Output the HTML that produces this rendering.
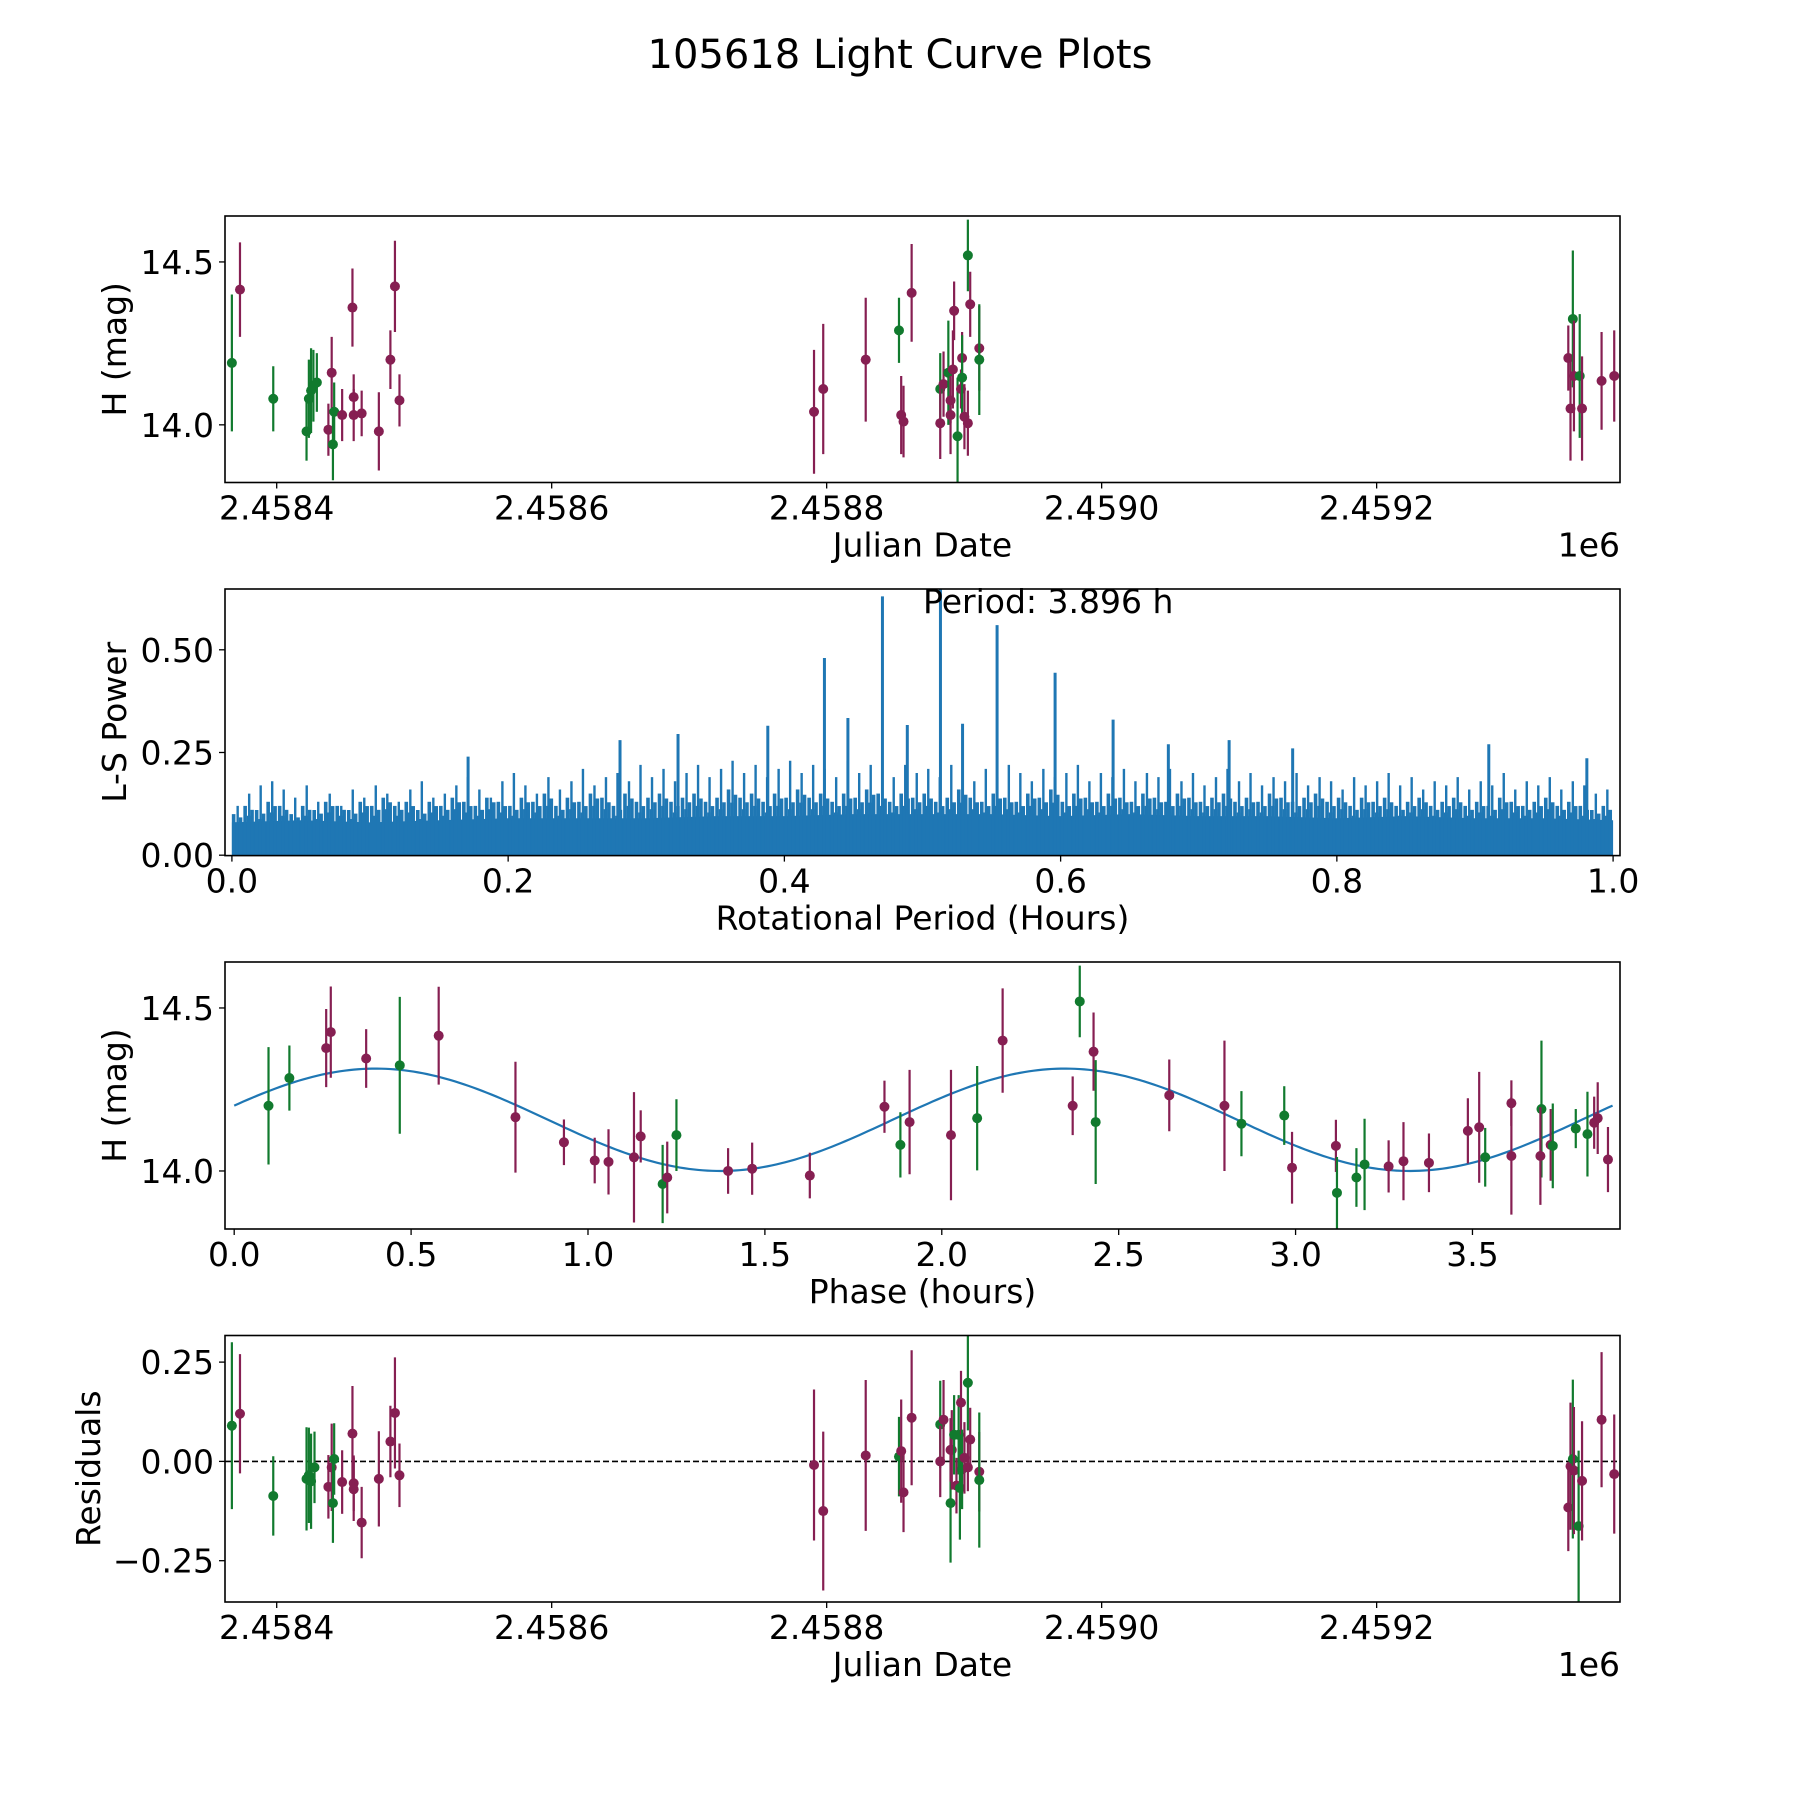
<!DOCTYPE html>
<html><head><meta charset="utf-8"><title>105618 Light Curve Plots</title>
<style>
html,body{margin:0;padding:0;background:#fff;}
svg{display:block;font-family:"DejaVu Sans","Liberation Sans",sans-serif;}
</style></head>
<body>
<svg id="fig" xmlns="http://www.w3.org/2000/svg" width="1800" height="1800" viewBox="0 0 1800 1800">
<rect x="0" y="0" width="1800" height="1800" fill="#fff"/>
<text x="900" y="68" font-size="40" text-anchor="middle">105618 Light Curve Plots</text>
</svg>
<script>
// ---------- DATA ----------
const lcDays = [-32.6,-26.7,-2.5,21.7,23.4,25,26.7,29.2,37.6,40,40.9,41.8,47.6,55.1,56,56,61.8,74.3,82.7,86,89.3,
  390.8,397.5,428.4,452.6,454.2,455.9,461.8,482.6,482.6,485,488.5,490.1,490.1,491.8,492.7,495.2,497.7,498.5,498.5,500.2,502.7,502.7,504.4,511,511,
  939.4,941,942.7,943.5,947.7,949.4,963.6,972.8];
const lcMag = [14.19,14.415,14.08,13.98,14.08,14.105,14.12,14.13,13.985,14.16,13.94,14.04,14.03,14.36,14.085,14.03,14.035,13.98,14.20,14.425,14.075,
  14.04,14.11,14.20,14.29,14.03,14.01,14.405,14.11,14.005,14.125,14.16,14.075,14.03,14.17,14.35,13.965,14.11,14.205,14.145,14.025,14.52,14.005,14.37,14.235,14.20,
  14.205,14.05,14.325,14.15,14.15,14.05,14.135,14.15];
const lcErr = [0.21,0.145,0.10,0.09,0.12,0.13,0.11,0.09,0.08,0.11,0.11,0.09,0.08,0.12,0.07,0.08,0.07,0.12,0.09,0.14,0.08,
  0.19,0.20,0.19,0.10,0.12,0.11,0.15,0.11,0.11,0.10,0.16,0.07,0.12,0.12,0.09,0.18,0.06,0.08,0.13,0.10,0.11,0.10,0.10,0.13,0.17,
  0.10,0.16,0.21,0.17,0.19,0.16,0.15,0.14];
const lcBand = [1,0,1,1,1,1,1,1,0,0,1,1,0,0,0,0,0,0,0,0,0,
  0,0,0,1,0,0,0,1,0,0,1,0,0,0,0,1,0,0,1,0,1,0,0,0,1,
  0,0,1,0,1,0,0,0];

const pdgSpikes = [0.12,0.15,0.17,0.18,0.16,0.14,0.17,0.13,0.15,0.12,0.16,0.14,0.17,0.15,0.13,0.16,0.18,0.14,0.15,0.17,
  0.19,0.16,0.14,0.18,0.20,0.17,0.15,0.19,0.16,0.18,0.21,0.17,0.19,0.20,0.18,0.22,0.19,0.21,0.18,0.20,
  0.22,0.19,0.21,0.23,0.20,0.22,0.19,0.21,0.23,0.20,0.22,0.21,0.19,0.23,0.20,0.22,0.21,0.19,0.22,0.20,
  0.21,0.19,0.22,0.20,0.18,0.21,0.19,0.22,0.20,0.18,0.21,0.19,0.20,0.22,0.18,0.20,0.19,0.21,0.18,0.20,
  0.19,0.21,0.18,0.20,0.17,0.19,0.21,0.18,0.20,0.17,0.19,0.18,0.20,0.17,0.19,0.18,0.16,0.19,0.17,0.18,
  0.20,0.17,0.19,0.16,0.18,0.17,0.19,0.16,0.18,0.17,0.20,0.16,0.18,0.17,0.19,0.16,0.18,0.17,0.15,0.16];
const pdgMid = [0.10,0.12,0.11,0.13,0.12,0.10,0.12,0.11,0.13,0.12,0.11,0.13,0.12,0.14,0.12,0.13,0.11,0.13,0.12,0.14,
  0.13,0.12,0.14,0.13,0.12,0.14,0.13,0.15,0.12,0.14,0.13,0.15,0.14,0.12,0.15,0.13,0.14,0.15,0.13,0.14,
  0.15,0.13,0.14,0.16,0.14,0.15,0.13,0.15,0.14,0.16,0.14,0.15,0.13,0.15,0.14,0.16,0.15,0.13,0.15,0.14,
  0.15,0.13,0.14,0.16,0.14,0.13,0.15,0.14,0.13,0.15,0.14,0.16,0.13,0.15,0.14,0.13,0.15,0.14,0.13,0.15,
  0.14,0.13,0.15,0.14,0.13,0.14,0.15,0.13,0.14,0.13,0.15,0.14,0.13,0.14,0.15,0.13,0.14,0.12,0.14,0.13,
  0.14,0.12,0.13,0.14,0.12,0.13,0.14,0.12,0.13,0.12,0.14,0.13,0.12,0.13,0.14,0.12,0.13,0.12,0.11,0.12];
const pdgBase = [0.08,0.085,0.08,0.085,0.09,0.09,0.09,0.095,0.095,0.10,0.10,0.10,0.095,0.10,0.095,0.095,0.09,0.095,0.09,0.09,0.085];
const peakPeriods = [0.171,0.281,0.323,0.388,0.429,0.446,0.471,0.489,0.513,0.529,0.554,0.596,0.638,0.678,0.722,0.768,0.91,0.981];
const peakPowers  = [0.24,0.28,0.295,0.315,0.48,0.334,0.63,0.317,0.66,0.32,0.56,0.444,0.33,0.27,0.28,0.26,0.27,0.236];

const phHours = [0.097,0.156,0.26,0.273,0.373,0.468,0.578,0.795,0.932,1.019,1.058,1.13,1.149,1.211,1.224,1.25,1.396,1.464,1.627,1.838,
  1.883,1.909,2.026,2.10,2.172,2.37,2.39,2.429,2.435,2.643,2.799,2.847,2.968,2.99,3.114,3.117,3.172,3.195,3.263,3.305,
  3.377,3.487,3.519,3.536,3.61,3.61,3.695,3.692,3.721,3.727,3.792,3.825,3.844,3.854,3.883];
const phMag = [14.20,14.285,14.377,14.426,14.345,14.324,14.415,14.165,14.088,14.032,14.028,14.042,14.106,13.96,13.98,14.11,14.0,14.007,13.986,14.197,
  14.08,14.15,14.11,14.162,14.40,14.20,14.52,14.366,14.15,14.232,14.20,14.145,14.17,14.01,14.077,13.933,13.98,14.02,14.014,14.03,
  14.025,14.123,14.134,14.042,14.208,14.046,14.19,14.046,14.08,14.077,14.13,14.113,14.148,14.162,14.035];
const phErr = [0.18,0.10,0.12,0.14,0.09,0.21,0.15,0.17,0.07,0.07,0.10,0.20,0.08,0.12,0.11,0.11,0.07,0.08,0.07,0.08,
  0.10,0.16,0.20,0.16,0.16,0.09,0.11,0.12,0.19,0.11,0.20,0.10,0.09,0.11,0.08,0.11,0.09,0.14,0.08,0.12,
  0.09,0.10,0.17,0.09,0.07,0.18,0.21,0.15,0.11,0.13,0.06,0.13,0.08,0.11,0.10];
const phBand = [1,1,0,0,0,1,0,0,0,0,0,0,0,1,0,1,0,0,0,0,
  1,0,0,1,0,0,1,0,1,0,0,1,1,0,0,1,1,1,0,0,
  0,0,0,1,0,0,1,0,0,1,1,1,0,0,0];
const modelMean = [14.157];
const modelAmp = [0.157];
const modelPeak = [0.40];
const modelHalfPeriod = [1.948];
const rotPeriod = [3.896];

const resDays = [-32.6,-26.7,-2.5,21.7,23.4,25,27.5,37.6,40,40.9,41.8,47.6,55.1,56,56,61.8,74.3,82.7,86,89.3,
  390.8,397.5,428.4,452.6,454.2,455.9,461.8,482.6,482.6,485,490.1,490.1,491,492.7,494.4,496,496.9,497.7,498.5,500.2,502.7,502.7,504.4,511,511,
  939.4,941,942.7,943.5,946.9,949.4,963.6,972.8];
const resVals = [0.09,0.12,-0.087,-0.044,-0.035,-0.05,-0.015,-0.064,-0.015,-0.105,0.006,-0.052,0.07,-0.055,-0.07,-0.154,-0.044,0.05,0.122,-0.035,
  -0.009,-0.125,0.015,0.012,0.026,-0.078,0.11,0.093,0,0.105,-0.105,0.029,0.029,0.067,-0.061,0.067,-0.067,0.148,-0.02,0.009,0.198,-0.015,0.055,-0.026,-0.047,
  -0.116,-0.012,0.006,-0.023,-0.163,-0.049,0.105,-0.032];
const resErr = [0.21,0.15,0.10,0.13,0.12,0.12,0.09,0.08,0.11,0.10,0.09,0.08,0.12,0.07,0.08,0.09,0.12,0.09,0.14,0.08,
  0.19,0.20,0.19,0.10,0.13,0.10,0.17,0.11,0.09,0.10,0.15,0.08,0.10,0.10,0.07,0.10,0.13,0.08,0.10,0.09,0.12,0.06,0.08,0.10,0.17,
  0.11,0.16,0.20,0.16,0.19,0.15,0.17,0.15];
const resBand = [1,0,1,1,1,1,1,0,0,1,1,0,0,0,0,0,0,0,0,0,
  0,0,0,1,0,0,0,1,0,0,1,0,0,1,0,1,1,0,1,0,1,0,0,0,1,
  0,0,1,0,1,0,0,0];

const jdTicks = [2458400,2458600,2458800,2459000,2459200];
const jdTickLabels = ["2.4584","2.4586","2.4588","2.4590","2.4592"];
const magTicks = [14.0,14.5];
const magTickLabels = ["14.0","14.5"];
const pwrTicks = [0,0.25,0.5];
const pwrTickLabels = ["0.00","0.25","0.50"];
const perTicks = [0,0.2,0.4,0.6,0.8,1.0];
const perTickLabels = ["0.0","0.2","0.4","0.6","0.8","1.0"];
const phTicks = [0,0.5,1,1.5,2,2.5,3,3.5];
const phTickLabels = ["0.0","0.5","1.0","1.5","2.0","2.5","3.0","3.5"];
const resTicks = [0.25,0,-0.25];
const resTickLabels = ["0.25","0.00","\u22120.25"];

// ---------- DRAW ----------
const NS = "http://www.w3.org/2000/svg";
const svg = document.getElementById('fig');
const L = 225, R = 1620;
const MAG = '#861f52', GRN = '#117a2e', BLUE = '#1f77b4';
function el(tag, attrs, parent){
  const e = document.createElementNS(NS, tag);
  for (const k in attrs) e.setAttribute(k, attrs[k]);
  (parent||svg).appendChild(e);
  return e;
}
function lin(d0,d1,r0,r1){ return v => r0 + (v-d0)/(d1-d0)*(r1-r0); }

function makeAxes(name, top, bot){
  const g = el('g', {});
  
  
  const clipId = name + '-clip';
  const cp = el('clipPath', {id: clipId}, g);
  el('rect', {x: L, y: top, width: R-L, height: bot-top}, cp);
  const plot = el('g', {'clip-path': 'url(#' + clipId + ')'}, g);
  
  
  return {g, plot, top, bot};
}
function frame(ax){
  const f = el('rect', {x: L, y: ax.top, width: R-L, height: ax.bot-ax.top, fill: 'none', stroke: '#000', 'stroke-width': 1.6}, ax.g);
  
  
}
function xTicks(ax, ticks, labels, sx, label, offsetText){
  ticks.forEach((t,i) => {
    const x = sx(t);
    el('line', {x1:x, x2:x, y1:ax.bot, y2:ax.bot+6, stroke:'#000','stroke-width':1.3}, ax.g);
    const tx = el('text', {x:x, y:ax.bot+37, 'font-size':33, 'text-anchor':'middle'}, ax.g);
    tx.textContent = labels[i];
    
    
  });
  const xl = el('text', {x:(L+R)/2, y:ax.bot+74, 'font-size':33, 'text-anchor':'middle'}, ax.g);
  xl.textContent = label;
  
  
  if (offsetText){
    const ot = el('text', {x:R, y:ax.bot+74, 'font-size':33, 'text-anchor':'end'}, ax.g);
    ot.textContent = offsetText;
    
    
  }
}
function yTicks(ax, ticks, labels, sy, label, labelX){
  ticks.forEach((t,i) => {
    const y = sy(t);
    el('line', {x1:L-6, x2:L, y1:y, y2:y, stroke:'#000','stroke-width':1.3}, ax.g);
    const ty = el('text', {x:L-11, y:y+12, 'font-size':33, 'text-anchor':'end'}, ax.g);
    ty.textContent = labels[i];
    
    
  });
  const cy = (ax.top+ax.bot)/2;
  const yl = el('text', {x:labelX, y:cy, 'font-size':33, 'text-anchor':'middle', transform:'rotate(-90 '+labelX+' '+cy+')'}, ax.g);
  yl.textContent = label;
  
  
}
function errPoint(parent, x, y, yLo, yHi, color, name){
  const g = el('g', {}, parent);
  
  
  el('line', {x1:x, x2:x, y1:yLo, y2:yHi, stroke:color, 'stroke-width':2.2}, g);
  el('circle', {cx:x, cy:y, r:5, fill:color}, g);
}

// --- Axes 1 ---
const jdMin = 2458362.4, jdMax = 2459377.0;
const ax1 = makeAxes('light-curve-axes', 216, 482.5);
const sx1 = lin(jdMin, jdMax, L, R);
const sy1 = lin(13.823, 14.641, 482.5, 216);
lcDays.forEach((d,i) => {
  const jd = 2458400 + d;
  errPoint(ax1.plot, sx1(jd), sy1(lcMag[i]), sy1(lcMag[i]-lcErr[i]), sy1(lcMag[i]+lcErr[i]), lcBand[i] ? GRN : MAG, 'light-curve-point');
});
frame(ax1);
xTicks(ax1, jdTicks, jdTickLabels, sx1, 'Julian Date', '1e6');
yTicks(ax1, magTicks, magTickLabels, sy1, 'H (mag)', 126);

// --- Axes 2: periodogram ---
const ax2 = makeAxes('periodogram-axes', 589, 855.6);
const sx2 = lin(-0.005, 1.005, L, R);
const sy2 = lin(-0.001, 0.648, 855.6, 589);
let pts = [];
pdgBase.forEach((v,i) => { pts.push(sx2(i/(pdgBase.length-1)) + ',' + sy2(v)); });
const basePoly = el('polygon', {points: sx2(0)+','+sy2(0)+' '+pts.join(' ')+' '+sx2(1)+','+sy2(0), fill: BLUE}, ax2.plot);


const n1 = pdgSpikes.length;
pdgSpikes.forEach((v,i) => {
  const x = sx2((i+0.5)/n1);
  const s = el('line', {x1:x, x2:x, y1:sy2(0), y2:sy2(v), stroke:BLUE, 'stroke-width':2.4}, ax2.plot);
  
  
});
const n2 = pdgMid.length;
const subFrac = [1.0, 0.8, 0.92];
pdgMid.forEach((v,i) => {
  for (let k=0;k<3;k++){
    const x = sx2((i + 0.15 + k*0.3)/n2);
    const h = v * subFrac[k];
    const s = el('rect', {x:x-1.8, y:sy2(h), width:3.6, height:sy2(0)-sy2(h), fill:BLUE}, ax2.plot);
    
    
  }
});
peakPeriods.forEach((p,i) => {
  const x = sx2(p);
  const s = el('line', {x1:x, x2:x, y1:sy2(0), y2:sy2(peakPowers[i]), stroke:BLUE, 'stroke-width':3}, ax2.plot);
  
  
});
frame(ax2);
const ptxt = el('text', {x:923, y:613, 'font-size':33}, ax2.g);
ptxt.textContent = 'Period: ' + rotPeriod[0].toFixed(3) + ' h';


xTicks(ax2, perTicks, perTickLabels, sx2, 'Rotational Period (Hours)', null);
yTicks(ax2, pwrTicks, pwrTickLabels, sy2, 'L-S Power', 126);

// --- Axes 3 ---
const ax3 = makeAxes('phase-folded-axes', 962, 1229);
const sx3 = lin(-0.026, 3.917, L, R);
const sy3 = lin(13.822, 14.641, 1229, 962);
let cpts = [];
for (let k=0;k<=300;k++){
  const ph = rotPeriod[0]*k/300;
  const m = modelMean[0] + modelAmp[0]*Math.cos(2*Math.PI*(ph-modelPeak[0])/modelHalfPeriod[0]);
  cpts.push(sx3(ph).toFixed(2)+','+sy3(m).toFixed(2));
}
const curve = el('polyline', {points:cpts.join(' '), fill:'none', stroke:BLUE, 'stroke-width':2.2}, ax3.plot);


phHours.forEach((p,i) => {
  errPoint(ax3.plot, sx3(p), sy3(phMag[i]), sy3(phMag[i]-phErr[i]), sy3(phMag[i]+phErr[i]), phBand[i] ? GRN : MAG, 'phase-point');
});
frame(ax3);
xTicks(ax3, phTicks, phTickLabels, sx3, 'Phase (hours)', null);
yTicks(ax3, magTicks, magTickLabels, sy3, 'H (mag)', 126);

// --- Axes 4 ---
const ax4 = makeAxes('residuals-axes', 1335.5, 1602);
const sx4 = sx1;
const sy4 = lin(-0.354, 0.317, 1602, 1335.5);
const zl = el('line', {x1:L, x2:R, y1:sy4(0), y2:sy4(0), stroke:'#000', 'stroke-width':1.6, 'stroke-dasharray':'6,3'}, ax4.plot);


resDays.forEach((d,i) => {
  const jd = 2458400 + d;
  errPoint(ax4.plot, sx4(jd), sy4(resVals[i]), sy4(resVals[i]-resErr[i]), sy4(resVals[i]+resErr[i]), resBand[i] ? GRN : MAG, 'residual-point');
});
frame(ax4);
xTicks(ax4, jdTicks, jdTickLabels, sx4, 'Julian Date', '1e6');
yTicks(ax4, resTicks, resTickLabels, sy4, 'Residuals', 100);
</script>
</body></html>
